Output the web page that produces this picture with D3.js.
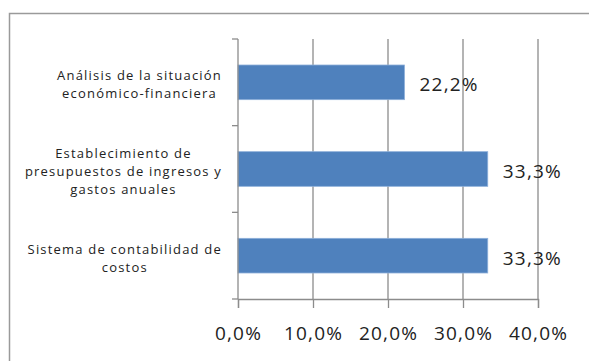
<!DOCTYPE html>
<html>
<head>
<meta charset="utf-8">
<script src="https://cdn.jsdelivr.net/npm/d3@7"></script>
<style>
  body { margin: 0; background: #fff; }
  svg { display: block; }
</style>
</head>
<body>
<svg width="589" height="361"></svg>
<script>
// categorías (de arriba hacia abajo) y valores en %
const categories = [
  ["Análisis de la situación", "económico-financiera"],
  ["Establecimiento de", "presupuestos de ingresos y", "gastos anuales"],
  ["Sistema de contabilidad de", "costos"]
];
const values = [22.2, 33.3, 33.3];
const xTicks = [0, 10, 20, 30, 40];

const area = { left: 238, right: 538, top: 39, bottom: 299 };
const pct = d => d3.format(".1f")(d).replace(".", ",") + "%";

const svg = d3.select("svg");

// marco del gráfico (solo arriba e izquierda visibles)
svg.append("path")
  .attr("d", "M9.5,361 V13.5 H589")
  .attr("fill", "none")
  .attr("stroke", "#9a9a9a")
  .attr("stroke-width", 1.5);

const x = d3.scaleLinear().domain([0, 40]).range([area.left, area.right]);
const y = d3.scaleBand()
  .domain(d3.range(categories.length))
  .range([area.top, area.bottom])
  .paddingInner(0.6)
  .paddingOuter(0.3);

const band = (area.bottom - area.top) / categories.length;

// líneas de división verticales
svg.append("g")
  .selectAll("line")
  .data(xTicks.slice(1))
  .join("line")
  .attr("x1", d => x(d)).attr("x2", d => x(d))
  .attr("y1", area.top).attr("y2", area.bottom)
  .attr("stroke", "#8c8c8c")
  .attr("stroke-width", 1.3);

// barras
svg.append("g")
  .selectAll("rect")
  .data(values)
  .join("rect")
  .attr("x", x(0))
  .attr("y", (d, i) => y(i))
  .attr("width", d => x(d) - x(0))
  .attr("height", y.bandwidth())
  .attr("fill", "#4f81bd")
  .attr("stroke", "#8eb0da")
  .attr("stroke-width", 0.8);

// eje X
const gX = svg.append("g")
  .attr("transform", `translate(0,${area.bottom})`)
  .call(d3.axisBottom(x).tickValues(xTicks).tickSize(9).tickPadding(19)
    .tickFormat(pct));
gX.select(".domain").attr("stroke", "#8c8c8c").attr("stroke-width", 1.3);
gX.selectAll(".tick line").attr("stroke", "#8c8c8c").attr("stroke-width", 1.3);
gX.selectAll("text")
  .attr("font-family", "Open Sans, sans-serif")
  .attr("font-size", 19)
  .attr("letter-spacing", 1.2)
  .attr("fill", "#222");

// eje Y (línea y marcas entre categorías)
svg.append("line")
  .attr("x1", area.left).attr("x2", area.left)
  .attr("y1", area.top).attr("y2", area.bottom)
  .attr("stroke", "#8c8c8c").attr("stroke-width", 1.3);
svg.append("g")
  .selectAll("line")
  .data(d3.range(categories.length + 1))
  .join("line")
  .attr("x1", area.left - 6).attr("x2", area.left)
  .attr("y1", i => area.top + i * band).attr("y2", i => area.top + i * band)
  .attr("stroke", "#8c8c8c").attr("stroke-width", 1.3);

// etiquetas de categoría
const lineH = 18;
categories.forEach((lines, i) => {
  const cy = y(i) + y.bandwidth() / 2 + 2;
  const g = svg.append("g")
    .attr("font-family", "Open Sans, sans-serif")
    .attr("font-size", 13)
    .attr("letter-spacing", 1.2)
    .attr("fill", "#222");
  const t = g.selectAll("text")
    .data(lines)
    .join("text")
    .attr("text-anchor", "middle")
    .attr("dominant-baseline", "central")
    .attr("y", (d, j) => cy + (j - (lines.length - 1) / 2) * lineH)
    .text(d => d);
  const maxW = d3.max(t.nodes(), n => n.getComputedTextLength());
  t.attr("x", 222 - maxW / 2);
});

// etiquetas de datos
svg.append("g")
  .selectAll("text")
  .data(values)
  .join("text")
  .attr("x", d => x(d) + 15)
  .attr("y", (d, i) => y(i) + y.bandwidth() / 2 + 2)
  .attr("dominant-baseline", "central")
  .attr("font-family", "Open Sans, sans-serif")
  .attr("font-size", 19)
  .attr("letter-spacing", 1.2)
  .attr("fill", "#222")
  .text(pct);
</script>
</body>
</html>
